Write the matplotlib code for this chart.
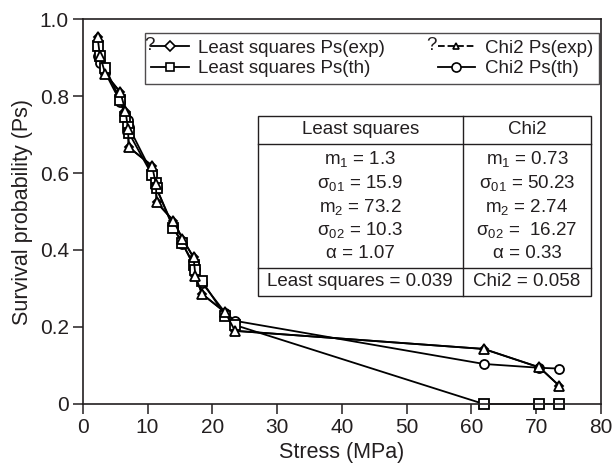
import matplotlib
matplotlib.use("Agg")
import matplotlib.pyplot as plt
from matplotlib.lines import Line2D
from matplotlib.patches import Rectangle

plt.rcParams['font.family'] = ['Liberation Sans', 'DejaVu Sans']
plt.rcParams['mathtext.default'] = 'regular'
INK = '#231f20'

# Данные
stress = [2.3, 2.65, 3.5, 5.8, 6.6, 7.0, 7.1, 10.7, 11.3, 11.4,
          14.0, 15.4, 17.1, 17.4, 18.4, 22.0, 23.5, 61.9, 70.5, 73.5]
ps_exp = [0.952, 0.905, 0.857, 0.810, 0.762, 0.714, 0.667, 0.619, 0.571, 0.524,
          0.476, 0.429, 0.381, 0.333, 0.286, 0.238, 0.190, 0.143, 0.095, 0.048]
ps_th_ls = [0.930, 0.905, 0.872, 0.790, 0.745, 0.720, 0.705, 0.595, 0.575, 0.560,
            0.456, 0.417, 0.360, 0.348, 0.320, 0.229, 0.205, 0.0, 0.0, 0.0]
ps_th_chi2 = [0.905, 0.887, 0.860, 0.785, 0.750, 0.738, 0.720, 0.600, 0.570, 0.560,
              0.460, 0.416, 0.365, 0.350, 0.315, 0.237, 0.216, 0.104, 0.094, 0.092]

ls_params = ['m$_1$ = 1.3', 'σ$_{01}$ = 15.9', 'm$_2$ = 73.2', 'σ$_{02}$ = 10.3', 'α = 1.07']
chi2_params = ['m$_1$ = 0.73', 'σ$_{01}$ = 50.23', 'm$_2$ = 2.74', 'σ$_{02}$ =  16.27', 'α = 0.33']
ls_score = 'Least squares = 0.039'
chi2_score = 'Chi2 = 0.058'

fig = plt.figure(figsize=(6.15, 4.72), dpi=100)
ax = fig.add_axes([0.1345, 0.1441, 0.8428, 0.8156])

mk = dict(color='black', linewidth=1.3, markerfacecolor='white',
          markeredgecolor='black', markeredgewidth=1.3, clip_on=False)
# круги снизу, треугольники сверху
ax.plot(stress, ps_th_chi2, marker='o', markersize=6.5, zorder=2, **mk)
ax.plot(stress, ps_exp, marker='D', markersize=4, zorder=2.1, **mk)
ax.plot(stress, ps_th_ls, marker='s', markersize=6.5, zorder=2.2, **mk)
ax.plot(stress, ps_exp, marker='^', markersize=7.5, zorder=2.3, **mk)

ax.set_xlim(0, 80)
ax.set_ylim(0, 1.0)
ax.set_xticks(range(0, 81, 10))
ax.set_yticks([0, 0.2, 0.4, 0.6, 0.8, 1.0])
ax.set_yticklabels(['0', '0.2', '0.4', '0.6', '0.8', '1.0'])
ax.tick_params(direction='out', length=7, width=1.1, labelsize=15,
               colors=INK, pad=3)
for s in ax.spines.values():
    s.set_linewidth(1.2)
    s.set_color(INK)
ax.set_xlabel('Stress (MPa)', fontsize=15.5, color=INK, labelpad=4)
ax.set_ylabel('Survival probability (Ps)', fontsize=15.5, color=INK, labelpad=5)

# Легенда
hk = dict(color='black', linewidth=1.3, markerfacecolor='white',
          markeredgecolor='black', markeredgewidth=1.2)
handles = [Line2D([], [], marker='D', markersize=5.5, **hk),
           Line2D([], [], marker='s', markersize=6, **hk),
           Line2D([], [], marker='^', markersize=5, linestyle='--', **hk),
           Line2D([], [], marker='o', markersize=6.5, **hk)]
labels = ['Least squares Ps(exp)', 'Least squares Ps(th)',
          'Chi2 Ps(exp)', 'Chi2 Ps(th)']
leg = ax.legend(handles, labels, ncol=2, loc='upper left',
                bbox_to_anchor=(0.12, 0.964), borderaxespad=0,
                fontsize=13.5, handlelength=2.0, handletextpad=0.5,
                columnspacing=2.8, borderpad=0.35, labelspacing=0.2,
                frameon=True, fancybox=False, labelcolor=INK)
leg.get_frame().set_edgecolor(INK)
leg.get_frame().set_linewidth(1.0)
ax.text(0.129, 0.931, '?', transform=ax.transAxes, fontsize=13.5,
        color=INK, ha='center', va='center', zorder=10)
ax.text(0.672, 0.931, '?', transform=ax.transAxes, fontsize=13.5,
        color=INK, ha='center', va='center', zorder=10)

# Таблица параметров
tl, tr, tdiv = 0.338, 0.981, 0.733
ttop, thead, tmid, tbot = 0.748, 0.675, 0.353, 0.281
ax.add_patch(Rectangle((tl, tbot), tr - tl, ttop - tbot, transform=ax.transAxes,
                       facecolor='white', edgecolor=INK, linewidth=1.0, zorder=5))
ax.plot([tl, tr], [thead, thead], transform=ax.transAxes, color=INK, lw=1.0, zorder=6)
ax.plot([tl, tr], [tmid, tmid], transform=ax.transAxes, color=INK, lw=1.0, zorder=6)
ax.plot([tdiv, tdiv], [tbot, ttop], transform=ax.transAxes, color=INK, lw=1.0, zorder=6)

c1, c2 = (tl + tdiv) / 2, (tdiv + tr) / 2
tk = dict(transform=ax.transAxes, fontsize=13.5, color=INK,
          ha='center', va='center', zorder=7)
ax.text(c1, 0.712, 'Least squares', **tk)
ax.text(c2, 0.712, 'Chi2', **tk)
rows_y = [0.636, 0.574, 0.512, 0.452, 0.392]
for y, a, b in zip(rows_y, ls_params, chi2_params):
    ax.text(c1, y, a, **tk)
    ax.text(c2, y, b, **tk)
ax.text(c1, 0.317, ls_score, **tk)
ax.text(c2, 0.317, chi2_score, **tk)

fig.savefig('out.png', dpi=100)
